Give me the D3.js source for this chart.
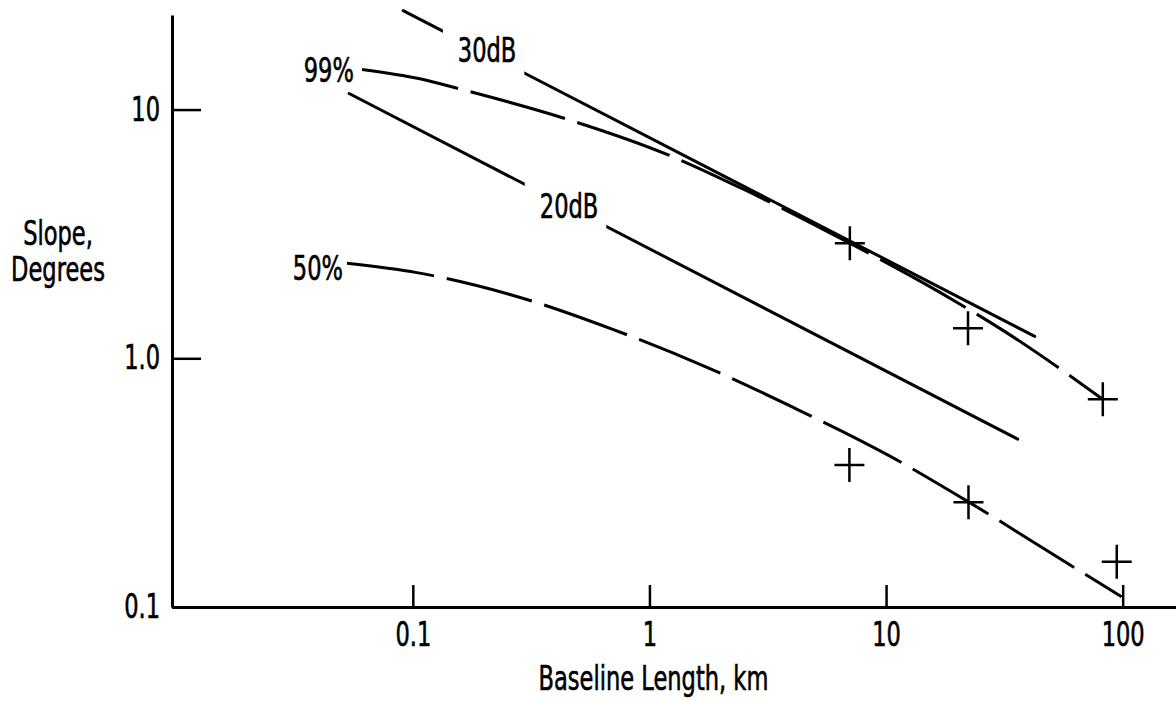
<!DOCTYPE html>
<html>
<head>
<meta charset="utf-8">
<script src="https://cdn.jsdelivr.net/npm/d3@7"></script>
<style>
  html, body { margin: 0; padding: 0; background: #fff; }
  svg { display: block; }
  text { font-family: "Liberation Sans Narrow", "DejaVu Sans Condensed", "DejaVu Sans", sans-serif; fill: #000; stroke: #000; stroke-width: 0.6px; }
</style>
</head>
<body>
<svg id="chart" width="1176" height="701"></svg>
<script>
// Axis extents (baseline length in km, slope in degrees)
const xDomain = [0.0096, 168];
const yDomain = [0.1, 24];
const xTickValues = [0.1, 1, 10, 100];
const xTickLabels = ["0.1", "1", "10", "100"];
const yTickValues = [0.1, 1, 10];
const yTickLabels = ["0.1", "1.0", "10"];

// 30 dB and 20 dB model lines
const line30dBLength = [0.091, 42.5];
const line30dBSlope  = [25.0, 1.225];
const line20dBLength = [0.0538, 36];
const line20dBSlope  = [11.6, 0.473];

// 99% and 50% percentile curves
const p99Length = [0.061, 0.107, 0.158, 0.453, 1.22, 2.41, 7.03, 16.9, 31.8, 82.4];
const p99Slope  = [14.5, 13.3, 12.1, 9.12, 6.53, 4.86, 2.90, 1.84, 1.28, 0.684];
const p50Length = [0.0527, 0.104, 0.255, 0.695, 1.75, 4.03, 10.2, 22.4, 57, 99];
const p50Slope  = [2.41, 2.21, 1.81, 1.31, 0.92, 0.636, 0.408, 0.264, 0.152, 0.110];

// Measured points
const measLength = [7.03, 22.2, 82.4, 7.0, 22.3, 94.4];
const measSlope  = [2.9, 1.32, 0.684, 0.372, 0.264, 0.152];

// Curve labels, anchored at the start of their text
const curveLabels      = ["30dB", "20dB", "99%", "50%"];
const curveLabelLength = [0.155, 0.344, 0.0346, 0.0311];
const curveLabelSlope  = [15.5, 3.67, 12.9, 2.07];

const svg = d3.select("#chart");
const x = d3.scaleLog().domain(xDomain).range([172, 1176]);
const y = d3.scaleLog().domain(yDomain).range([607, 15]);
const FONT = 33;
const SX = 0.76;   // horizontal condensing of the lettering

const zip = (xs, ys) => xs.map((v, i) => [v, ys[i]]);
const lineGen = d3.line().x(d => x(d[0])).y(d => y(d[1])).curve(d3.curveMonotoneX);

// Condensed text placed at (px, py)
function addText(parent, px, py, str, anchor) {
  return parent.append("text")
    .attr("transform", `translate(${px},${py}) scale(${SX},1)`)
    .attr("text-anchor", anchor || "start")
    .attr("font-size", FONT)
    .text(str);
}

// Axes
const gx = svg.append("g").attr("transform", `translate(0,${y.range()[0]})`)
  .call(d3.axisBottom(x).tickValues(xTickValues).tickFormat((d, i) => xTickLabels[i])
    .tickSizeInner(-22).tickSizeOuter(0).tickPadding(16));
const gy = svg.append("g").attr("transform", `translate(${x.range()[0]},0)`)
  .call(d3.axisLeft(y).tickValues(yTickValues).tickFormat((d, i) => yTickLabels[i])
    .tickSizeInner(-29).tickSizeOuter(0).tickPadding(12));
[gx, gy].forEach(g => {
  g.attr("font-size", FONT).attr("font-family", null);
  g.select(".domain").attr("stroke", "#000").attr("stroke-width", 3);
  g.selectAll(".tick line").attr("stroke", "#000").attr("stroke-width", 2.5);
  g.selectAll(".tick text").each(function () {
    const t = d3.select(this);
    const tx = +t.attr("x") || 0;
    t.attr("x", tx / SX).attr("transform", `scale(${SX},1)`);
  });
});

// Axis titles
addText(svg, 58, 245, "Slope,", "middle");
addText(svg, 58, 281, "Degrees", "middle");
addText(svg, x(1) + 4, 690, "Baseline Length, km", "middle");

// Curve labels
const labelPos = curveLabels.map((t, i) => [x(curveLabelLength[i]), y(curveLabelSlope[i])]);
const labelNodes = curveLabels.map((t, i) => addText(svg, labelPos[i][0], labelPos[i][1], t));

// Masks that open a gap in a line where its label sits
const defs = svg.append("defs");
function gapMask(id, i) {
  const b = labelNodes[i].node().getBBox();
  const left = labelPos[i][0] + b.x * SX, w = b.width * SX;
  const top = labelPos[i][1] + b.y;
  const m = defs.append("mask").attr("id", id).attr("maskUnits", "userSpaceOnUse")
    .attr("x", 0).attr("y", 0).attr("width", 1176).attr("height", 701);
  m.append("rect").attr("x", 0).attr("y", 0).attr("width", 1176).attr("height", 701).attr("fill", "#fff");
  m.append("rect").attr("x", left - 15).attr("y", top - 40)
    .attr("width", w + 23).attr("height", b.height + 80).attr("fill", "#000");
  return `url(#${id})`;
}

const curves = g => g.attr("fill", "none").attr("stroke", "#000")
  .attr("stroke-width", 3).attr("stroke-linecap", "round");

svg.append("path").datum(zip(line30dBLength, line30dBSlope)).call(curves)
  .attr("mask", gapMask("gap30", 0)).attr("d", lineGen);
svg.append("path").datum(zip(line20dBLength, line20dBSlope)).call(curves)
  .attr("mask", gapMask("gap20", 1)).attr("d", lineGen);
svg.append("path").datum(zip(p99Length, p99Slope)).call(curves)
  .attr("stroke-dasharray", "98,13").attr("stroke-linecap", "butt").attr("d", lineGen);
svg.append("path").datum(zip(p50Length, p50Slope)).call(curves)
  .attr("stroke-dasharray", "88,13").attr("stroke-linecap", "butt").attr("d", lineGen);

// Measured values as plus marks
svg.append("g").selectAll("path").data(zip(measLength, measSlope)).join("path")
  .attr("transform", d => `translate(${x(d[0])},${y(d[1])})`)
  .attr("d", "M-15,0H15M0,-17V17")
  .attr("stroke", "#000").attr("stroke-width", 2.5).attr("fill", "none");
</script>
</body>
</html>
